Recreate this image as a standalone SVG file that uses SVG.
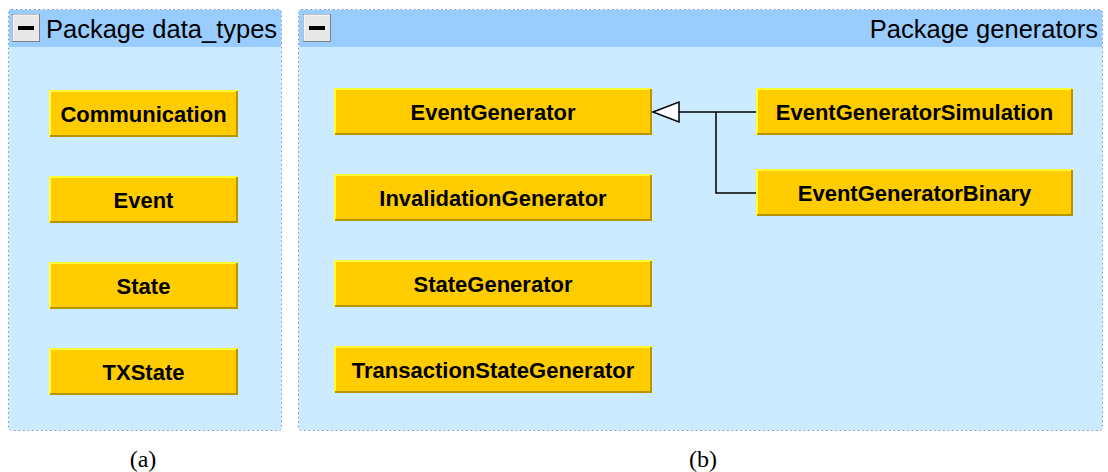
<svg xmlns="http://www.w3.org/2000/svg" width="1108" height="472" viewBox="0 0 1108 472">
<defs>
<style>
.pkg{fill:#CCEBFF;stroke:#8090B0;stroke-width:1;stroke-dasharray:1.5 3}
.hdr{fill:#99CCFF}
.ptitle{font-family:"Liberation Sans",Arial,sans-serif;font-size:25.5px;fill:#000}
.btn{fill:#E8E8E8;stroke:#808080;stroke-width:1}
.node{fill:#FFCC00}
.hl{stroke:#FFFF33;stroke-width:2;fill:none}
.sh{stroke:#B89400;stroke-width:2;fill:none}
.lbl{font-family:"Liberation Sans",Arial,sans-serif;font-size:22px;font-weight:bold;fill:#000;text-anchor:middle}
.cap{font-family:"Liberation Serif","Times New Roman",serif;font-size:24px;fill:#000;text-anchor:middle}
.edge{stroke:#000;stroke-width:1.5;fill:none}
</style>
</defs>
<rect width="1108" height="472" fill="#fff"/>
<g id="pkg_data_types">
<rect class="pkg" x="8.5" y="9.5" width="273" height="421" rx="3"/>
<rect class="hdr" x="9" y="10" width="272" height="37"/>
<rect class="btn" x="12.5" y="14.5" width="27" height="27"/>
<path d="M13 41 V15 H39" stroke="#fff" stroke-width="1" fill="none"/>
<rect x="18" y="26" width="16" height="4" fill="#000"/>
<text class="ptitle" x="46" y="38">Package data_types</text>
</g>
<g id="pkg_generators">
<rect class="pkg" x="298.5" y="9.5" width="804" height="421" rx="3"/>
<rect class="hdr" x="299" y="10" width="803" height="37"/>
<rect class="btn" x="303.5" y="14.5" width="27" height="27"/>
<path d="M304 41 V15 H330" stroke="#fff" stroke-width="1" fill="none"/>
<rect x="309" y="26" width="16" height="4" fill="#000"/>
<text class="ptitle" x="1098" y="38" text-anchor="end">Package generators</text>
</g>
<g id="n_Communication">
<rect class="node" x="49" y="90" width="189" height="47"/>
<path class="hl" d="M50 137 V91 H238"/><path class="sh" d="M50 136 H237 V91"/>
<text class="lbl" x="143.5" y="121.5">Communication</text>
</g>
<g id="n_Event">
<rect class="node" x="49" y="176" width="189" height="47"/>
<path class="hl" d="M50 223 V177 H238"/><path class="sh" d="M50 222 H237 V177"/>
<text class="lbl" x="143.5" y="207.5">Event</text>
</g>
<g id="n_State">
<rect class="node" x="49" y="262" width="189" height="47"/>
<path class="hl" d="M50 309 V263 H238"/><path class="sh" d="M50 308 H237 V263"/>
<text class="lbl" x="143.5" y="293.5">State</text>
</g>
<g id="n_TXState">
<rect class="node" x="49" y="348" width="189" height="47"/>
<path class="hl" d="M50 395 V349 H238"/><path class="sh" d="M50 394 H237 V349"/>
<text class="lbl" x="143.5" y="379.5">TXState</text>
</g>
<g id="n_EventGenerator">
<rect class="node" x="334" y="88" width="318" height="47"/>
<path class="hl" d="M335 135 V89 H652"/><path class="sh" d="M335 134 H651 V89"/>
<text class="lbl" x="493" y="119.5">EventGenerator</text>
</g>
<g id="n_InvalidationGenerator">
<rect class="node" x="334" y="174" width="318" height="47"/>
<path class="hl" d="M335 221 V175 H652"/><path class="sh" d="M335 220 H651 V175"/>
<text class="lbl" x="493" y="205.5">InvalidationGenerator</text>
</g>
<g id="n_StateGenerator">
<rect class="node" x="334" y="260" width="318" height="47"/>
<path class="hl" d="M335 307 V261 H652"/><path class="sh" d="M335 306 H651 V261"/>
<text class="lbl" x="493" y="291.5">StateGenerator</text>
</g>
<g id="n_TransactionStateGenerator">
<rect class="node" x="334" y="346" width="318" height="47"/>
<path class="hl" d="M335 393 V347 H652"/><path class="sh" d="M335 392 H651 V347"/>
<text class="lbl" x="493" y="377.5">TransactionStateGenerator</text>
</g>
<g id="n_EventGeneratorSimulation">
<rect class="node" x="756" y="88" width="317" height="47"/>
<path class="hl" d="M757 135 V89 H1073"/><path class="sh" d="M757 134 H1072 V89"/>
<text class="lbl" x="914.5" y="119.5">EventGeneratorSimulation</text>
</g>
<g id="n_EventGeneratorBinary">
<rect class="node" x="756" y="169" width="317" height="47"/>
<path class="hl" d="M757 216 V170 H1073"/><path class="sh" d="M757 215 H1072 V170"/>
<text class="lbl" x="914.5" y="200.5">EventGeneratorBinary</text>
</g>
<g id="connectors">
<path class="edge" d="M756 112 H679"/>
<path class="edge" d="M756 193 H716 V112"/>
<polygon points="653,112 679,102 679,122" fill="#fff" stroke="#000" stroke-width="1.5"/>
</g>
<text class="cap" x="143" y="467">(a)</text>
<text class="cap" x="703" y="467">(b)</text>
</svg>
